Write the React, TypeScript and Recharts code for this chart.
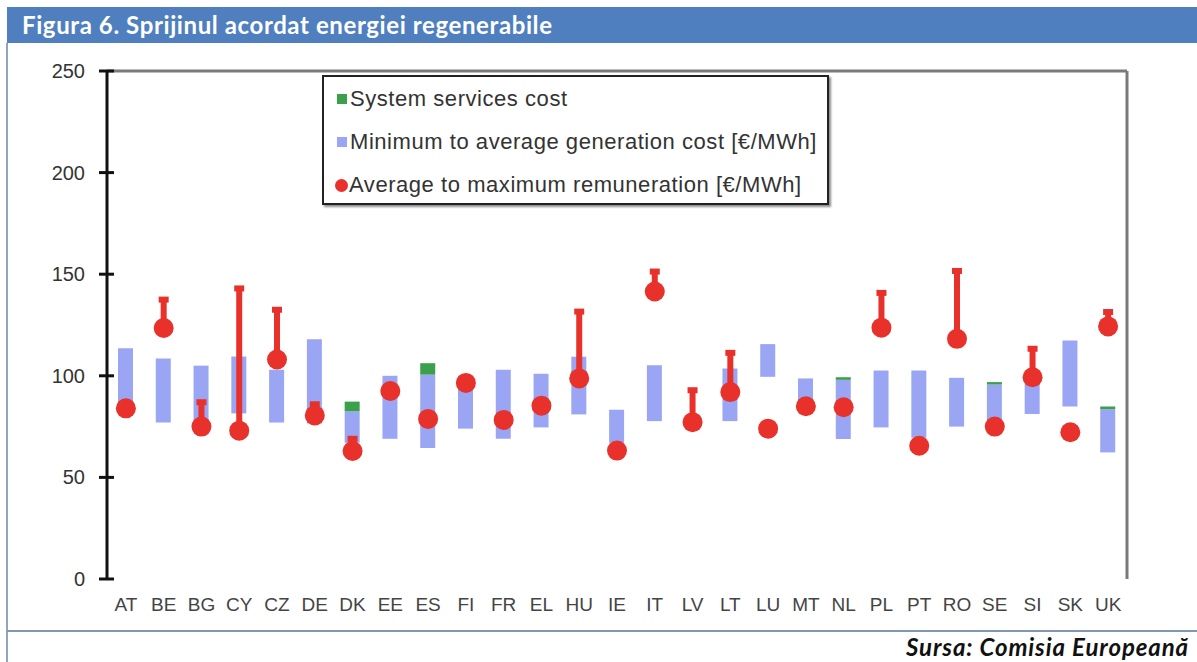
import React from 'react';
import { ComposedChart, Bar, Line, XAxis, YAxis, ErrorBar, ReferenceLine } from 'recharts';

const countries = ['AT','BE','BG','CY','CZ','DE','DK','EE','ES','FI','FR','EL','HU','IE','IT','LV','LT','LU','MT','NL','PL','PT','RO','SE','SI','SK','UK'];
const genMin: (number | null)[] = [82, 77, 76, 81.5, 77, 76.5, 67, 69, 64.5, 74, 69, 74.6, 81, 67, 77.7, null, 77.7, 99.5, 83, 68.9, 74.6, 69.5, 75, 72, 81.2, 84.9, 62.3];
const genAvg: (number | null)[] = [113.5, 108.5, 105, 109.5, 103, 118, 82.5, 100, 100.6, 100, 103, 101, 109.4, 83.3, 105.2, null, 103.6, 115.6, 98.7, 98, 102.6, 102.6, 99, 95.7, 101, 117.4, 83.6];
const sysCost = [0, 0, 0, 0, 0, 0, 4.8, 0, 5.6, 0, 0, 0, 0, 0, 0, 0, 0, 0, 0, 1.3, 0, 0, 0, 1.2, 0, 0, 1.3];
const remAvg = [84, 123.5, 75, 73, 108, 80.5, 63, 92.5, 78.8, 96.5, 78.3, 85.3, 98.7, 63.2, 141.5, 77.2, 92, 74, 85, 84.5, 123.7, 65.6, 118.2, 75, 99.3, 72.2, 124.3];
const remMax = [84, 137.5, 87, 143, 132.5, 86, 69, 92.5, 78.8, 96.5, 78.3, 85.3, 131.6, 63.2, 151.3, 92.9, 111.3, 74, 85, 84.5, 140.8, 65.6, 151.6, 75, 113.3, 72.2, 131.4];
const yTicks = [0, 50, 100, 150, 200, 250];
const boundaryTicks = countries.map((_, i) => i).concat([countries.length]);

const legendItems = [
  { label: 'System services cost', color: '#3AA04A', shape: 'square' },
  { label: 'Minimum to average generation cost [€/MWh]', color: '#9AA6F4', shape: 'square' },
  { label: 'Average to maximum remuneration [€/MWh]', color: '#E8312A', shape: 'circle' },
];

const data = countries.map((c, i) => ({
  name: c,
  pos: i + 0.5,
  base: genMin[i],
  gen: genMin[i] == null || genAvg[i] == null ? null : (genAvg[i] as number) - (genMin[i] as number),
  sys: sysCost[i],
  rem: remAvg[i],
  remErr: [0, remMax[i] - remAvg[i]],
}));

const YTick = (props: any) => {
  const { x, y, payload } = props;
  return (
    <g>
      <line x1={x - 8} x2={x + 7} y1={y} y2={y} stroke="#111" strokeWidth={3} />
      <text x={x - 22} y={y} dy="0.35em" textAnchor="end" fill="#333" fontSize={20} fontFamily="Liberation Sans, Arial, sans-serif">
        {payload.value}
      </text>
    </g>
  );
};

const BoundaryTick = (props: any) => {
  const { x, y } = props;
  return <line x1={x} x2={x} y1={y - 7} y2={y + 7} stroke="#111" strokeWidth={3} />;
};

export default function App() {
  return (
    <div style={{ position: 'relative', width: 1197, height: 662, background: '#fff', overflow: 'hidden' }}>
      <style>{`body{margin:0}`}</style>
      <div style={{ position: 'absolute', left: 7, top: 7, width: 1190, height: 36, background: '#4F7FBE' }} />
      <div style={{ position: 'absolute', left: 22, top: 7, height: 36, lineHeight: '36px', color: '#fff', fontWeight: 700, fontSize: 24, letterSpacing: 0.6, fontFamily: 'Lato, "Open Sans", sans-serif', whiteSpace: 'nowrap' }}>
        Figura 6. Sprijinul acordat energiei regenerabile
      </div>
      <div style={{ position: 'absolute', left: 6, top: 43, width: 2, height: 619, background: '#8FA3C3' }} />
      <div style={{ position: 'absolute', left: 7, top: 630, width: 1190, height: 2, background: '#8096B4' }} />
      <div style={{ position: 'absolute', right: 8, top: 633, lineHeight: '28px', color: '#111', fontWeight: 700, fontStyle: 'italic', fontSize: 24, letterSpacing: 0.9, fontFamily: 'Lato, "Open Sans", sans-serif', whiteSpace: 'nowrap' }}>
        Sursa: Comisia Europeană
      </div>
      <div style={{ position: 'absolute', left: 0, top: 0 }}>
        <ComposedChart
          width={1197}
          height={662}
          data={data}
          margin={{ top: 71, right: 70, left: 47, bottom: 43 }}
          style={{ fontFamily: 'Liberation Sans, Arial, sans-serif' }}
        >
          <XAxis
            xAxisId="grid"
            dataKey="pos"
            type="number"
            domain={[0, countries.length]}
            ticks={boundaryTicks}
            allowDataOverflow
            height={0}
            axisLine={{ stroke: '#111', strokeWidth: 3 }}
            tickLine={false}
            tick={<BoundaryTick />}
            tickSize={0}
            tickMargin={0}
          />
          <XAxis
            xAxisId="cat"
            dataKey="name"
            type="category"
            height={40}
            axisLine={false}
            tickLine={false}
            tickSize={0}
            tickMargin={19}
            interval={0}
            tick={{ fill: '#444', fontSize: 19 }}
          />
          <YAxis
            yAxisId="left"
            domain={[0, 250]}
            ticks={yTicks}
            width={60}
            axisLine={{ stroke: '#111', strokeWidth: 3 }}
            tickLine={false}
            tickSize={0}
            tickMargin={0}
            tick={<YTick />}
          />
          <ReferenceLine yAxisId="left" xAxisId="cat" y={250} stroke="#7A7A7A" strokeWidth={3} />
          <ReferenceLine yAxisId="left" xAxisId="grid" x={countries.length} stroke="#7A7A7A" strokeWidth={3} />
          <Bar xAxisId="cat" yAxisId="left" dataKey="base" stackId="g" fill="transparent" barSize={15} isAnimationActive={false} />
          <Bar xAxisId="cat" yAxisId="left" dataKey="gen" stackId="g" fill="#9AA6F4" barSize={15} isAnimationActive={false} />
          <Bar xAxisId="cat" yAxisId="left" dataKey="sys" stackId="g" fill="#3AA04A" barSize={15} isAnimationActive={false} />
          <Line
            xAxisId="grid"
            yAxisId="left"
            dataKey="rem"
            stroke="none"
            strokeWidth={0}
            dot={{ r: 10, fill: '#E8312A', stroke: 'none' }}
            activeDot={false}
            isAnimationActive={false}
          >
            <ErrorBar dataKey="remErr" direction="y" width={5} strokeWidth={6} stroke="#E8312A" />
          </Line>
        </ComposedChart>
      </div>
      <div
        style={{
          position: 'absolute', left: 322, top: 75, width: 503, height: 126,
          border: '2px solid #222', boxShadow: '2px 2px 2px rgba(0,0,0,0.45)', background: '#fff',
          fontFamily: 'Liberation Sans, Arial, sans-serif', fontSize: 22, letterSpacing: 0.55, color: '#333',
        }}
      >
        {legendItems.map((it, i) => (
          <div key={it.label} style={{ position: 'absolute', left: 13, top: 9 + i * 43, height: 26, display: 'flex', alignItems: 'center', whiteSpace: 'nowrap' }}>
            <span
              style={{
                display: 'inline-block',
                width: it.shape === 'circle' ? 13 : 10,
                height: it.shape === 'circle' ? 13 : 10,
                borderRadius: it.shape === 'circle' ? '50%' : 0,
                background: it.color,
                marginRight: it.shape === 'circle' ? 1 : 3,
                marginLeft: it.shape === 'circle' ? -2 : 0,
              }}
            />
            <span>{it.label}</span>
          </div>
        ))}
      </div>
    </div>
  );
}
